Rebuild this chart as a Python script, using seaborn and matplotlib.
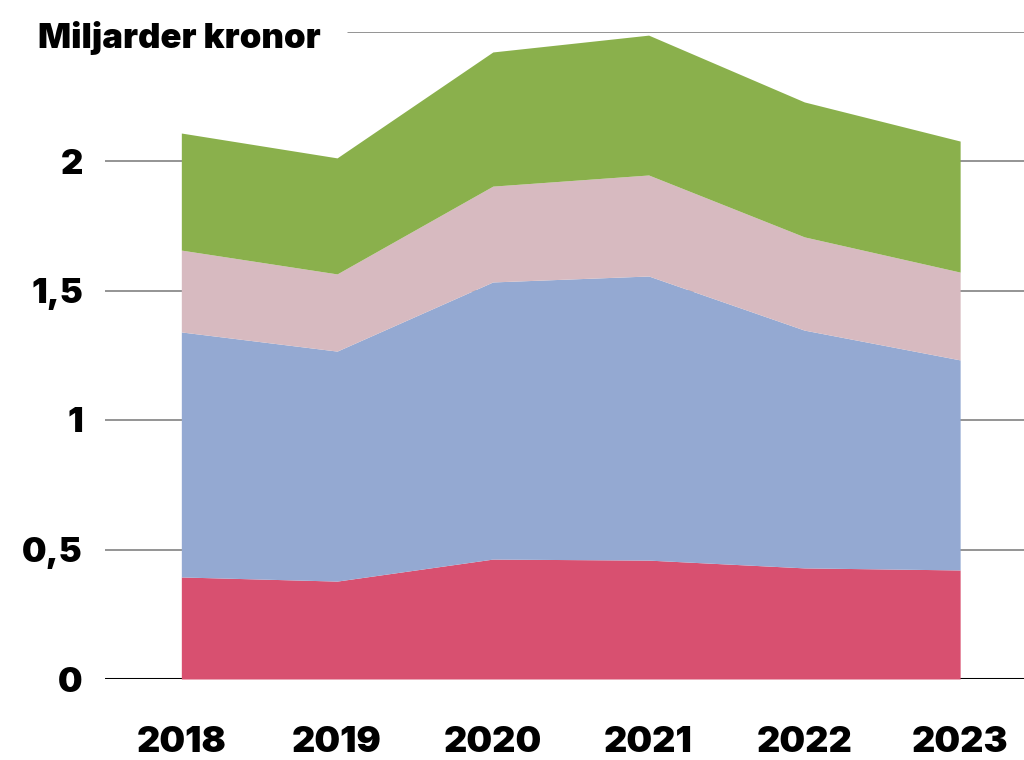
import numpy as np
import pandas as pd
import matplotlib
matplotlib.use("Agg")
import matplotlib.pyplot as plt
import seaborn as sns

# === Data (miljarder kronor) ===
years = [2018, 2019, 2020, 2021, 2022, 2023]
red_layer = [0.394, 0.378, 0.463, 0.459, 0.429, 0.421]
blue_layer = [0.946, 0.888, 1.070, 1.097, 0.918, 0.811]
pink_layer = [0.316, 0.298, 0.370, 0.390, 0.360, 0.339]
green_layer = [0.452, 0.448, 0.518, 0.540, 0.521, 0.506]
y_ticks = [0, 0.5, 1, 1.5, 2]
y_tick_labels = ["0", "0,5", "1", "1,5", "2"]

colors = ["#D85070", "#94A9D2", "#D7BAC0", "#8AB04C"]

df = pd.DataFrame({"year": years, "red": red_layer, "blue": blue_layer,
                   "pink": pink_layer, "green": green_layer})

# === Style ===
sns.set_theme(style="white")
plt.rcParams["font.family"] = ["Inter", "DejaVu Sans"]

fig = plt.figure(figsize=(10.24, 7.6), dpi=100)
ax = fig.add_axes([105 / 1024, 81 / 760, 919 / 1024, 647.5 / 760])

# gridlines behind the areas
for t in [0.5, 1, 1.5, 2]:
    ax.axhline(t, color="#777777", lw=1.1, zorder=0)
ax.axhline(2.5, xmin=(348 - 105) / 919, color="#777777", lw=1.1, zorder=0)
ax.axhline(0, color="black", lw=2.2, zorder=0)

ax.stackplot(df["year"], df["red"], df["blue"], df["pink"], df["green"],
             colors=colors, linewidth=0, zorder=2)

ax.set_xlim(2017.51, 2023.41)
ax.set_ylim(0, 2.5)
ax.set_yticks(y_ticks)
ax.set_yticklabels(y_tick_labels)
ax.set_xticks(years)
ax.set_xticklabels([str(y) for y in years])
ax.tick_params(axis="y", length=0, pad=16, labelsize=25, labelcolor="black")
ax.tick_params(axis="x", length=0, pad=34, labelsize=26, labelcolor="black")
for lbl in ax.get_xticklabels() + ax.get_yticklabels():
    lbl.set_fontweight(900)

sns.despine(ax=ax, left=True, bottom=True, top=True, right=True)

fig.text(38 / 1024, 1 - 38 / 760, "Miljarder kronor", fontsize=25,
         fontweight=900, ha="left", va="center", color="black")

fig.savefig("out.png", dpi=100)
